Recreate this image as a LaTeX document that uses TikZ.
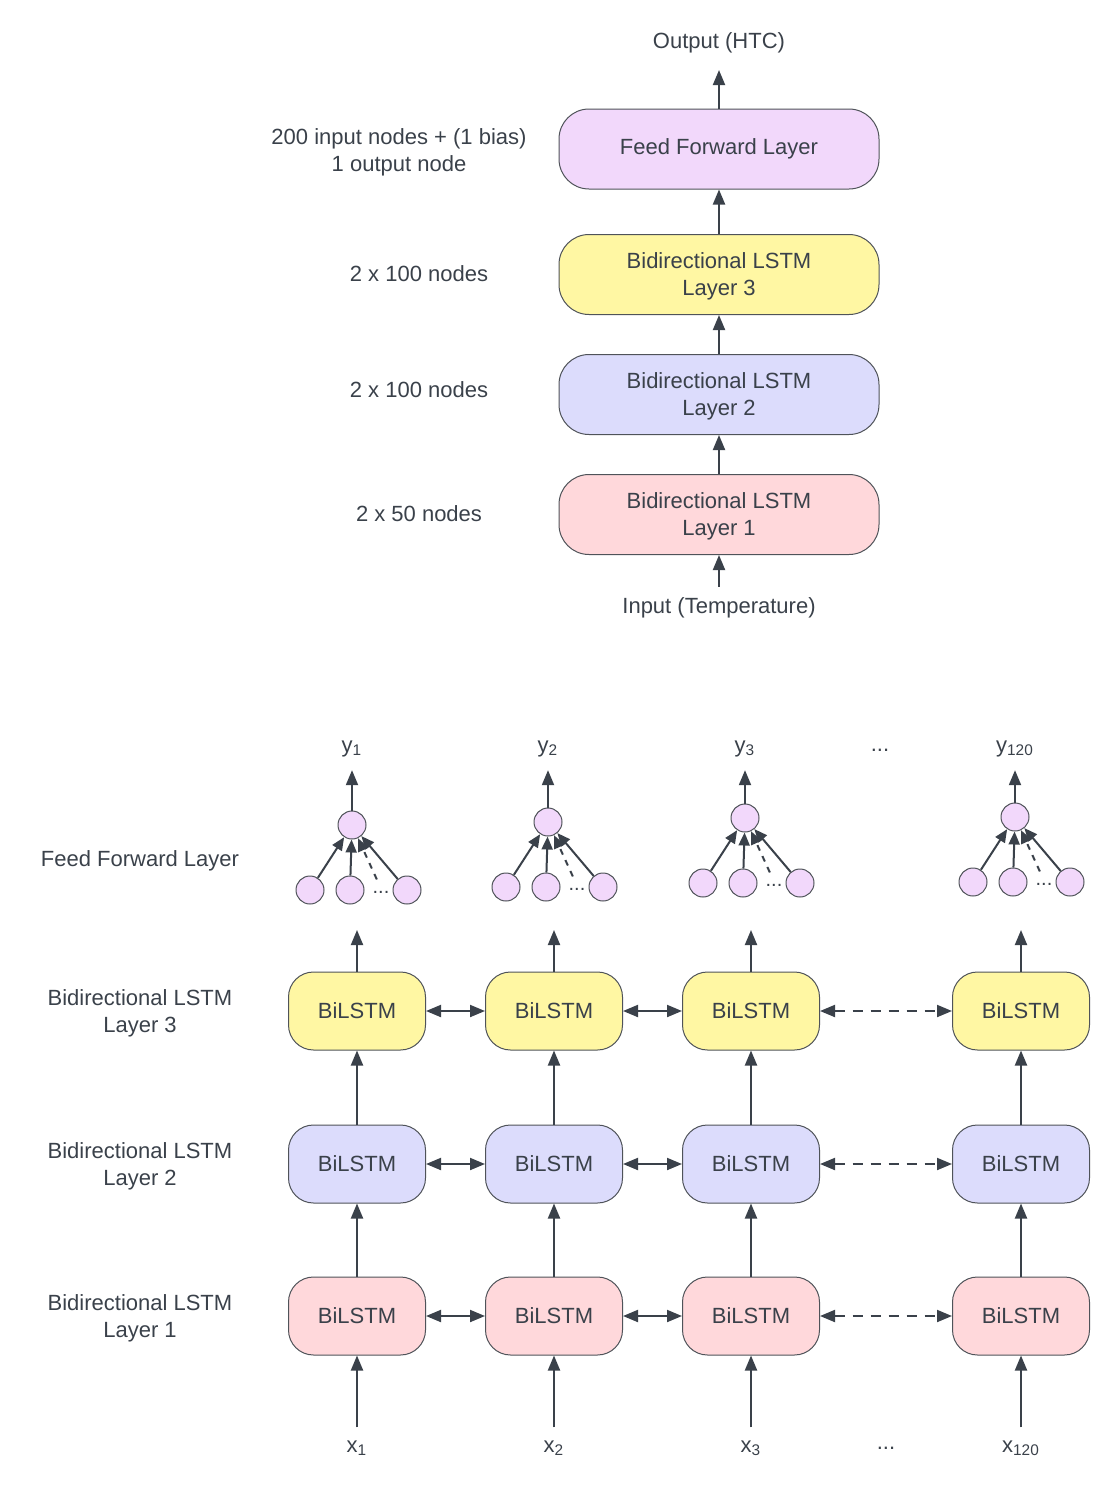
\documentclass[tikz,border=0pt]{standalone}
\usepackage{fontspec}
\setmainfont{Liberation Sans}
\usetikzlibrary{arrows.meta}
\definecolor{ink}{HTML}{3A414A}
\definecolor{edge}{HTML}{4F5359}
\definecolor{ffc}{HTML}{F2D8FB}
\definecolor{yelc}{HTML}{FFF7A3}
\definecolor{lavc}{HTML}{DCDCFC}
\definecolor{pinkc}{HTML}{FFD8DB}

\begin{document}
\begin{tikzpicture}[x=0.5pt,y=-0.5pt,
    font=\fontsize{11}{13.5}\selectfont, text=ink,
    >={Triangle[length=7.5pt,width=6pt]},
    arr/.style={->,draw=ink,line width=1pt},
    small/.style={arr,>={Triangle[length=6.5pt,width=5.5pt]}},
    layer/.style={draw=edge,line width=0.5pt,rounded corners=15pt,minimum width=160pt,minimum height=40pt,align=center},
    twoline/.style={layer,text depth=0pt},
    cell/.style={draw=edge,line width=0.5pt,rounded corners=12.5pt,minimum width=68.5pt,minimum height=39pt},
    unit/.style={circle,draw=edge,line width=0.5pt,fill=ffc,minimum size=14pt,inner sep=0pt},
    lbl/.style={align=center,text depth=0pt}]
  \useasboundingbox (0,0) rectangle (1110,1489);

  % stacked overview
  \node[layer,fill=ffc] (ffl) at (719,149) {Feed Forward Layer};
  \node[twoline,fill=yelc] (bl3) at (719,274.5) {Bidirectional LSTM\\Layer 3};
  \node[twoline,fill=lavc] (bl2) at (719,394.5) {Bidirectional LSTM\\Layer 2};
  \node[twoline,fill=pinkc] (bl1) at (719,514.5) {Bidirectional LSTM\\Layer 1};
  \node[lbl] (out) at (719,41) {Output (HTC)};
  \node[lbl] (inp) at (719,606) {Input (Temperature)};
  \draw[arr,shorten <=2pt] (inp) -- (bl1);
  \draw[arr] (bl1) -- (bl2);
  \draw[arr] (bl2) -- (bl3);
  \draw[arr] (bl3) -- (ffl);
  \draw[arr,shorten >=7pt] (ffl) -- (out);
  \node[lbl] (nff) at (399,150.5) {200 input nodes + (1 bias)\\1 output node};
  \node[lbl] (n3) at (419,274) {2 x 100 nodes};
  \node[lbl] (n2) at (419,390) {2 x 100 nodes};
  \node[lbl] (n1) at (419,514) {2 x 50 nodes};

  % unrolled network
  \node[lbl] (rff) at (140,859) {Feed Forward Layer};
  \foreach \r/\yr/\fc in {1/1316/pinkc,2/1164/lavc,3/1011/yelc}{
    \node[lbl] (r\r) at (140,\yr) {Bidirectional LSTM\\Layer \r};
    \foreach \c/\xc in {1/357,2/554,3/751,4/1021}
      \node[cell,fill=\fc] (b\r-\c) at (\xc,\yr) {BiLSTM};
    \draw[arr,<->] (b\r-1) -- (b\r-2);
    \draw[arr,<->] (b\r-2) -- (b\r-3);
    \draw[arr,<->,dash pattern=on 5pt off 4pt] (b\r-3) -- (b\r-4);
  }
  \foreach \c/\xc/\xf/\yf/\n in {1/357/352/825/1,2/554/548/822/2,3/751/745/818/3,4/1021/1015/817/120}{
    \node (x\c) at (\xc,1448) {x\textsubscript{\n}};
    \draw[arr,shorten <=3pt] (x\c) -- (b1-\c);
    \draw[arr] (b1-\c) -- (b2-\c);
    \draw[arr] (b2-\c) -- (b3-\c);
    \coordinate (t\c) at (\xc,930);
    \draw[arr] (b3-\c) -- (t\c);
    % feed forward units
    \node[unit] (f\c) at (\xf,\yf) {};
    \node[unit] (ua\c) at (\xf-42,\yf+65) {};
    \node[unit] (ub\c) at (\xf-2,\yf+65) {};
    \node[unit] (uc\c) at (\xf+55,\yf+65) {};
    \node[inner sep=1pt,font=\fontsize{10}{10}\selectfont] (d\c) at (\xf+29,\yf+67) {...};
    \draw[small] (ua\c) -- (f\c);
    \draw[small] (ub\c) -- (f\c);
    \draw[small] (uc\c) -- (f\c);
    \draw[small,dash pattern=on 3pt off 3pt,shorten <=5pt] (d\c.north) -- (f\c);
    \node (y\c) at (\xf,749) {y\textsubscript{\n}};
    \draw[arr,shorten >=3pt] (f\c) -- (y\c);
  }
  \node (ydots) at (880,750) {...};
  \node (xdots) at (886,1448) {...};
\end{tikzpicture}
\end{document}
